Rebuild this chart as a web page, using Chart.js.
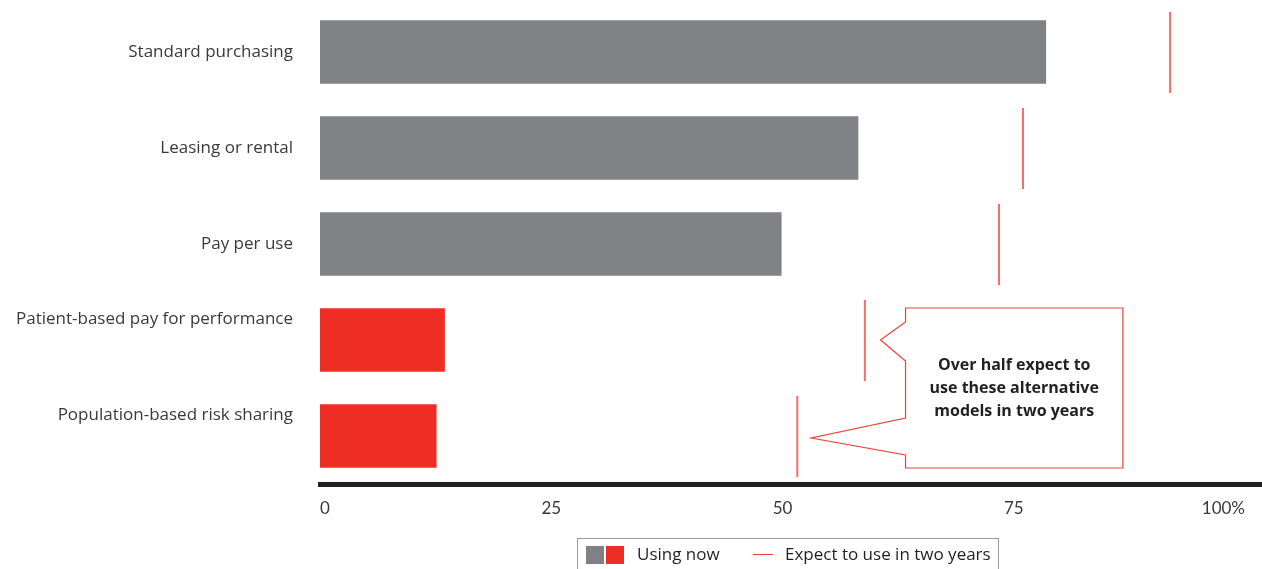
<!DOCTYPE html>
<html>
<head>
<meta charset="utf-8">
<script src="https://cdn.jsdelivr.net/npm/chart.js@4.4.1/dist/chart.umd.min.js"></script>
<style>
  html, body { margin: 0; padding: 0; background: #fff; }
  #wrap { position: relative; width: 1262px; height: 569px; overflow: hidden; }
  #legend {
    position: absolute; left: 577px; top: 538px; width: 422px; height: 40px;
    border: 1px solid #9a9a9a; box-sizing: border-box;
    font-family: "Open Sans", Lato, sans-serif; font-size: 17px; color: #231f20;
  }
  #legend .sq { position: absolute; top: 7px; width: 18px; height: 18px; }
  #legend .txt { position: absolute; top: 4px; line-height: 22px; white-space: nowrap; }
  #legend .ln { position: absolute; top: 15px; width: 20px; height: 1px; background: #ef4136; }
</style>
</head>
<body>
<div id="wrap">
  <canvas id="chart" width="1262" height="569"></canvas>
  <div id="legend">
    <div class="sq" style="left:8px;background:#808184"></div>
    <div class="sq" style="left:28px;background:#ee2e24"></div>
    <div class="txt" style="left:59px">Using now</div>
    <div class="ln" style="left:175px"></div>
    <div class="txt" style="left:207px">Expect to use in two years</div>
  </div>
</div>
<script>
const categories = [
  "Standard purchasing",
  "Leasing or rental",
  "Pay per use",
  "Patient-based pay for performance",
  "Population-based risk sharing"
];
const usingNow = [78.5, 58.2, 49.9, 13.5, 12.6];
const expectInTwoYears = [91.9, 76.0, 73.4, 58.9, 51.6];
const isAlternative = [false, false, false, true, true];
const xTicks = [0, 25, 50, 75, 100];
const calloutLines = ["Over half expect to", "use these alternative", "models in two years"];

const GREY = "#808184";
const RED = "#ee2e24";
const LINE_RED = "#ef4136";
const INK = "#231f20";

// vertical tick marker used as the point style for "expect" values
function makeMarker() {
  const c = document.createElement("canvas");
  c.width = 4;
  c.height = 81;
  const g = c.getContext("2d");
  g.fillStyle = LINE_RED;
  g.fillRect(1.25, 0, 1.5, 81);
  return c;
}
const marker = makeMarker();

// thick black axis running to the right edge
const axisLine = {
  id: "axisLine",
  afterDatasetsDraw(chart) {
    const { ctx, chartArea } = chart;
    ctx.save();
    ctx.fillStyle = INK;
    ctx.fillRect(chartArea.left - 2, chartArea.bottom - 2, chart.width - chartArea.left + 2, 5);
    ctx.restore();
  }
};

// callout box pointing at the two alternative models
const callout = {
  id: "callout",
  afterDraw(chart) {
    const { ctx } = chart;
    const x = chart.scales.x;
    const y = chart.scales.y;
    const left = x.getPixelForValue(63.3);
    const right = x.getPixelForValue(86.8);
    const y4 = y.getPixelForValue(3);
    const y5 = y.getPixelForValue(4);
    const top = y4 - 32;
    const bottom = y5 + 32;
    const tip1 = x.getPixelForValue(expectInTwoYears[3] + 1.7);
    const tip2 = x.getPixelForValue(expectInTwoYears[4] + 1.5);

    ctx.save();
    ctx.strokeStyle = LINE_RED;
    ctx.lineWidth = 1.2;
    ctx.beginPath();
    ctx.moveTo(left, top);
    ctx.lineTo(right, top);
    ctx.lineTo(right, bottom);
    ctx.lineTo(left, bottom);
    ctx.lineTo(left, y5 + 19);
    ctx.lineTo(tip2, y5 + 2);
    ctx.lineTo(left, y5 - 18);
    ctx.lineTo(left, y4 + 21);
    ctx.lineTo(tip1, y4);
    ctx.lineTo(left, y4 - 18);
    ctx.closePath();
    ctx.stroke();

    ctx.fillStyle = INK;
    ctx.font = "bold 16px 'Open Sans', Lato, sans-serif";
    ctx.textAlign = "center";
    ctx.textBaseline = "middle";
    const cx = (left + right) / 2;
    const cy = (y4 + y5) / 2;
    calloutLines.forEach((line, i) => {
      ctx.fillText(line, cx, cy + (i - 1) * 23);
    });
    ctx.restore();
  }
};

new Chart(document.getElementById("chart"), {
  type: "bar",
  data: {
    labels: categories,
    datasets: [
      {
        type: "line",
        label: "Expect to use in two years",
        data: expectInTwoYears,
        showLine: false,
        pointStyle: marker,
        pointRadius: 1,
        pointHoverRadius: 1,
        pointBorderWidth: 0,
        order: 0
      },
      {
        label: "Using now",
        data: usingNow,
        backgroundColor: isAlternative.map(a => (a ? RED : GREY)),
        barPercentage: 0.66,
        categoryPercentage: 1,
        order: 1
      }
    ]
  },
  options: {
    indexAxis: "y",
    responsive: false,
    animation: false,
    events: [],
    layout: {
      autoPadding: false,
      padding: { top: 4, right: 17, bottom: 45, left: 0 }
    },
    plugins: {
      legend: { display: false },
      tooltip: { enabled: false }
    },
    scales: {
      x: {
        min: 0,
        max: 100,
        afterBuildTicks: scale => {
          scale.ticks = xTicks.map(v => ({ value: v }));
        },
        afterFit: scale => {
          scale.height = 40;
        },
        grid: { display: false, drawTicks: false },
        border: { display: false },
        ticks: {
          align: "inner",
          padding: 14,
          color: "#3a3a3a",
          font: { family: "Lato, 'Open Sans', sans-serif", size: 17 },
          callback: v => (v === 100 ? "100%" : v)
        }
      },
      y: {
        afterFit: scale => {
          scale.width = 320;
          scale.paddingTop = 0;
          scale.paddingBottom = 0;
        },
        grid: { display: false, drawTicks: false },
        border: { display: false },
        ticks: {
          padding: 27,
          color: "#3a3a3a",
          font: { family: "'Open Sans', Lato, sans-serif", size: 17 },
          callback: (v, i) => (isAlternative[i] ? [categories[i], "", ""] : categories[i])
        }
      }
    }
  },
  plugins: [axisLine, callout]
});
</script>
</body>
</html>
